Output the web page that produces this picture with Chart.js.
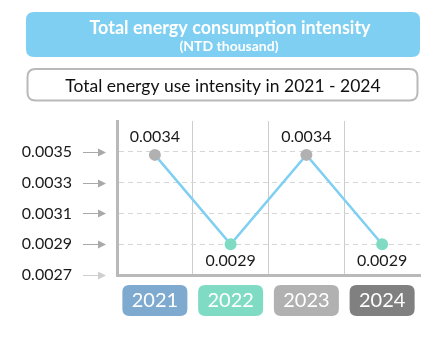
<!DOCTYPE html>
<html>
<head>
<meta charset="utf-8">
<script src="https://cdn.jsdelivr.net/npm/chart.js@4"></script>
<style>
  html, body { margin: 0; padding: 0; background: #fff; }
</style>
</head>
<body>
<canvas id="energyChart" width="447" height="347"></canvas>
<script>
// chart data
const years = ['2021', '2022', '2023', '2024'];
const intensity = [0.00348, 0.0029, 0.00348, 0.0029];
const valueLabels = ['0.0034', '0.0029', '0.0034', '0.0029'];
const pointColors = ['#b1b1b1', '#80dbc5', '#b1b1b1', '#80dbc5'];
const badgeColors = ['#7faacf', '#80dbc5', '#b1b1b1', '#808080'];

const titleText = 'Total energy consumption intensity';
const subtitleText = '(NTD thousand)';
const boxText = 'Total energy use intensity in 2021 - 2024';

function roundRect(ctx, x, y, w, h, r) {
    ctx.beginPath();
    ctx.moveTo(x + r, y);
    ctx.lineTo(x + w - r, y);
    ctx.quadraticCurveTo(x + w, y, x + w, y + r);
    ctx.lineTo(x + w, y + h - r);
    ctx.quadraticCurveTo(x + w, y + h, x + w - r, y + h);
    ctx.lineTo(x + r, y + h);
    ctx.quadraticCurveTo(x, y + h, x, y + h - r);
    ctx.lineTo(x, y + r);
    ctx.quadraticCurveTo(x, y, x + r, y);
    ctx.closePath();
}

//Header boxes, tick arrows, value labels and year badges
const decorations = {
    id: 'decorations',
    beforeDraw(chart) {
        const ctx = chart.ctx;
        ctx.save();
        // blue title box
        roundRect(ctx, 26, 12, 394, 45, 8);
        ctx.fillStyle = '#7ecff2';
        ctx.fill();
        ctx.fillStyle = '#ffffff';
        ctx.textAlign = 'center';
        ctx.textBaseline = 'middle';
        ctx.font = 'bold 18px Lato';
        ctx.fillText(titleText, 230, 28);
        ctx.font = 'bold 14px Lato';
        ctx.fillText(subtitleText, 229, 46.5);

        // outlined sub box
        roundRect(ctx, 27.5, 69, 390, 31.5, 8);
        ctx.lineWidth = 2;
        ctx.strokeStyle = '#b9b9b9';
        ctx.stroke();
        ctx.fillStyle = '#111111';
        ctx.font = '17.5px Lato';
        ctx.fillText(boxText, 223, 86);
        ctx.restore();
    },
    afterDatasetsDraw(chart) {
        const ctx = chart.ctx;
        const xScale = chart.scales.x;
        const yScale = chart.scales.y;
        ctx.save();

        // arrows next to y tick labels
        yScale.ticks.forEach((t, i) => {
            if (i === yScale.ticks.length - 1) return;
            const y = Math.round(yScale.getPixelForValue(t.value)) + 0.5;
            const col = i === 0 ? '#cfcfcf' : '#a9a9a9';
            ctx.strokeStyle = col;
            ctx.fillStyle = col;
            ctx.lineWidth = 1;
            ctx.beginPath();
            ctx.moveTo(83, y);
            ctx.lineTo(99, y);
            ctx.stroke();
            ctx.beginPath();
            ctx.moveTo(98, y - 4);
            ctx.lineTo(106, y);
            ctx.lineTo(98, y + 4);
            ctx.closePath();
            ctx.fill();
        });

        // value labels
        ctx.fillStyle = '#1a1a1a';
        ctx.font = '16px Lato';
        ctx.textAlign = 'center';
        ctx.textBaseline = 'middle';
        const meta = chart.getDatasetMeta(0);
        meta.data.forEach((pt, i) => {
            const above = intensity[i] > 0.0032;
            ctx.fillText(valueLabels[i], pt.x, above ? pt.y - 18 : pt.y + 17);
        });

        // year badges under the axis
        years.forEach((yr, i) => {
            const cx = xScale.getPixelForValue(i);
            roundRect(ctx, cx - 32.5, 285, 65, 31, 7);
            ctx.fillStyle = badgeColors[i];
            ctx.fill();
            ctx.fillStyle = '#ffffff';
            ctx.font = '20px Lato';
            ctx.fillText(yr, cx, 301);
        });
        ctx.restore();
    }
};

new Chart(
    document.getElementById('energyChart'),
    {
        type: 'line',
        data: {
            labels: years,
            datasets: [{
                data: intensity,
                borderColor: '#7ecff2',
                borderWidth: 2.5,
                tension: 0,
                pointRadius: 6,
                pointHoverRadius: 6,
                pointBorderWidth: 0,
                pointBackgroundColor: pointColors
            }]
        },
        options: {
            responsive: false,
            animation: false,
            layout: {padding: {top: 121, left: 0, right: 27, bottom: 72}},
            plugins: {
                legend: {display: false},
                tooltip: {enabled: false}
            },
            scales: {
                x: {
                    offset: true,
                    ticks: {display: false},
                    afterFit: scale => { scale.height = 0; },
                    border: {display: true, color: '#b9b9b9', width: 3},
                    grid: {
                        offset: true,
                        drawTicks: false,
                        color: ctx => (ctx.index > 0 && ctx.index < years.length) ? '#cdcdcd' : 'rgba(0,0,0,0)',
                        lineWidth: 1
                    }
                },
                y: {
                    min: 0.0027,
                    max: 0.0037,
                    afterFit: scale => { scale.width = 117; },
                    border: {display: true, color: '#b9b9b9', width: 3, dash: [5, 4]},
                    grid: {
                        drawTicks: false,
                        color: ctx => (ctx.index > 0 && ctx.index < 5) ? '#d6d6d6' : 'rgba(0,0,0,0)',
                        lineWidth: 1
                    },
                    ticks: {
                        stepSize: 0.0002,
                        padding: 45,
                        color: '#1a1a1a',
                        font: {family: 'Lato', size: 16},
                        callback: (v, i) => i === 5 ? '' : Number(v).toFixed(4)
                    }
                }
            }
        },
        plugins: [decorations]
    }
);
</script>
</body>
</html>
